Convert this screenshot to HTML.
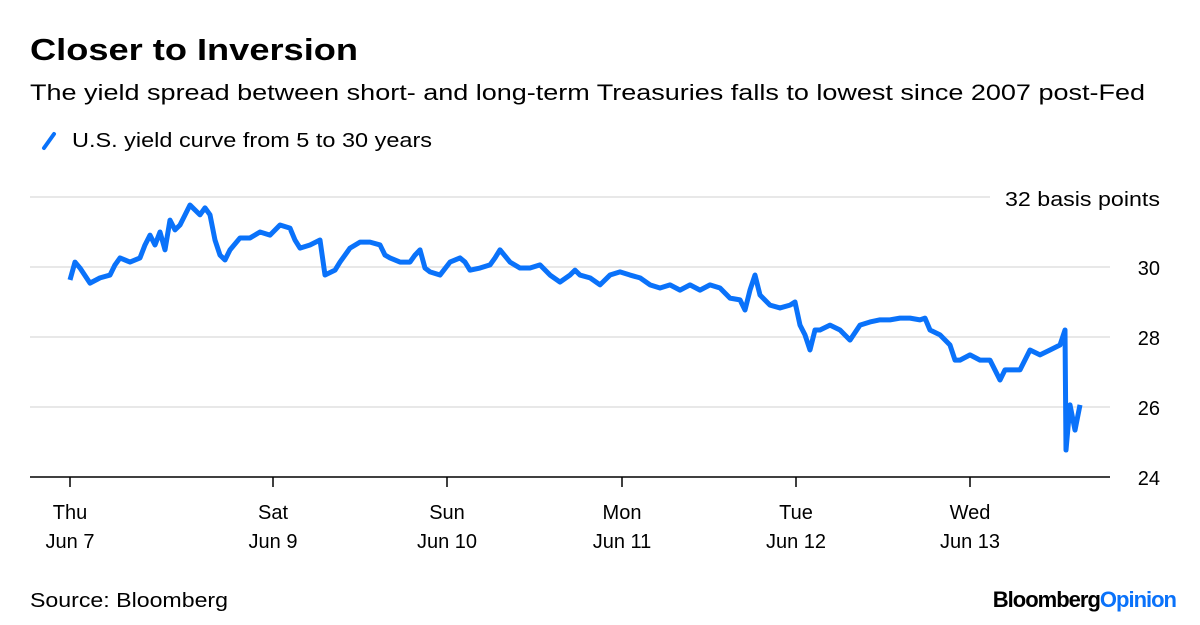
<!DOCTYPE html>
<html><head><meta charset="utf-8"><style>
body{margin:0;background:#fff;font-family:"Liberation Sans",sans-serif;color:#000}
#wrap{position:relative;width:1200px;height:625px;overflow:hidden}
</style></head><body>
<div id="wrap">
<svg id="chart" width="1200" height="625">
<text x="30" y="60" font-size="31" font-weight="bold" textLength="328" lengthAdjust="spacingAndGlyphs">Closer to Inversion</text>
<text x="30" y="100" font-size="22" textLength="1115" lengthAdjust="spacingAndGlyphs">The yield spread between short- and long-term Treasuries falls to lowest since 2007 post-Fed</text>
<line x1="44" y1="148" x2="54" y2="134" stroke="#0a72fa" stroke-width="4" stroke-linecap="round"/>
<text x="72" y="147" font-size="20" textLength="360" lengthAdjust="spacingAndGlyphs">U.S. yield curve from 5 to 30 years</text>
<g id="grid"></g>
<g id="xaxis"></g>
<path id="line" fill="none" stroke="#0a72fa" stroke-width="5" stroke-linejoin="round"/>
<text x="30" y="607" font-size="20" textLength="198" lengthAdjust="spacingAndGlyphs">Source: Bloomberg</text>
<text x="1176" y="607" font-size="22" font-weight="bold" text-anchor="end" letter-spacing="-1">Bloomberg<tspan fill="#0a72fa">Opinion</tspan></text>
</svg>
</div>
<script>
const sampleIndex=[0,5,10,20,30,40,45,50,60,70,75,80,85,90,95,100,105,110,120,130,135,140,145,150,155,160,170,180,190,200,210,220,225,230,240,250,255,265,270,280,290,300,310,315,320,330,340,345,350,355,360,370,380,390,395,400,410,420,425,430,440,450,460,470,480,490,500,505,510,520,530,540,550,560,570,580,590,600,610,620,630,640,650,660,670,675,680,685,690,700,710,720,725,730,735,740,745,750,760,770,780,790,800,810,820,830,840,850,855,860,870,880,885,890,900,910,920,930,935,940,950,960,970,980,990,995,996,1000,1005,1010];
const values=[29.63,30.14,29.97,29.54,29.69,29.77,30.06,30.26,30.14,30.26,30.63,30.91,30.63,31.0,30.49,31.34,31.06,31.2,31.77,31.49,31.69,31.49,30.77,30.34,30.2,30.49,30.83,30.83,31.0,30.91,31.2,31.11,30.77,30.54,30.63,30.77,29.77,29.91,30.14,30.54,30.71,30.71,30.63,30.34,30.26,30.14,30.14,30.34,30.49,29.97,29.86,29.77,30.14,30.26,30.14,29.91,29.97,30.06,30.26,30.49,30.14,29.97,29.97,30.06,29.77,29.57,29.77,29.91,29.77,29.69,29.49,29.77,29.86,29.77,29.69,29.49,29.4,29.49,29.34,29.49,29.34,29.49,29.4,29.11,29.06,28.77,29.34,29.77,29.2,28.91,28.83,28.91,29.0,28.34,28.06,27.63,28.2,28.2,28.34,28.2,27.91,28.34,28.43,28.49,28.49,28.54,28.54,28.49,28.54,28.2,28.06,27.77,27.34,27.34,27.49,27.34,27.34,26.77,27.06,27.06,27.06,27.63,27.49,27.63,27.77,28.2,24.77,26.06,25.34,26.06];
const yTicks=[24,26,28,30];
const xTickPos=[0,203,377,552,726,900];
const xTickDay=["Thu","Sat","Sun","Mon","Tue","Wed"];
const xTickDate=["Jun 7","Jun 9","Jun 10","Jun 11","Jun 12","Jun 13"];
const NS="http://www.w3.org/2000/svg";
const xs=i=>70+i;
const ys=v=>477-(v-24)*35;
const grid=document.getElementById('grid');
const xg=document.getElementById('xaxis');
function mk(tag,attrs,parent,text){const e=document.createElementNS(NS,tag);for(const k in attrs)e.setAttribute(k,attrs[k]);if(text!==undefined)e.textContent=text;parent.appendChild(e);return e;}
let g32=mk('line',{x1:30,x2:990,y1:ys(32),y2:ys(32),stroke:'#e8e8e8','stroke-width':2},grid);


let l32=mk('text',{x:1160,y:ys(32)+9,'font-size':20,'text-anchor':'end',textLength:155,lengthAdjust:'spacingAndGlyphs'},grid,'32 basis points');


yTicks.forEach(t=>{
 if(t!==24){
  const l=mk('line',{x1:30,x2:1110,y1:ys(t),y2:ys(t),stroke:'#e8e8e8','stroke-width':2},grid);
  
  
 }
 const tx=mk('text',{x:1160,y:ys(t)+8,'font-size':20,'text-anchor':'end'},grid,String(t));
 
 
});
const ax=mk('line',{x1:30,x2:1110,y1:477,y2:477,stroke:'#000','stroke-width':1.5},xg);


xTickPos.forEach((p,i)=>{
 const t=mk('line',{x1:xs(p),x2:xs(p),y1:477,y2:487,stroke:'#000','stroke-width':1.5},xg);
 
 
 const a=mk('text',{x:xs(p),y:519,'font-size':20,'text-anchor':'middle'},xg,xTickDay[i]);
 
 
 const b=mk('text',{x:xs(p),y:548,'font-size':20,'text-anchor':'middle'},xg,xTickDate[i]);
 
 
});
document.getElementById('line').setAttribute('d',sampleIndex.map((s,i)=>(i?'L':'M')+xs(s)+','+ys(values[i])).join(''));
</script>
</body></html>
